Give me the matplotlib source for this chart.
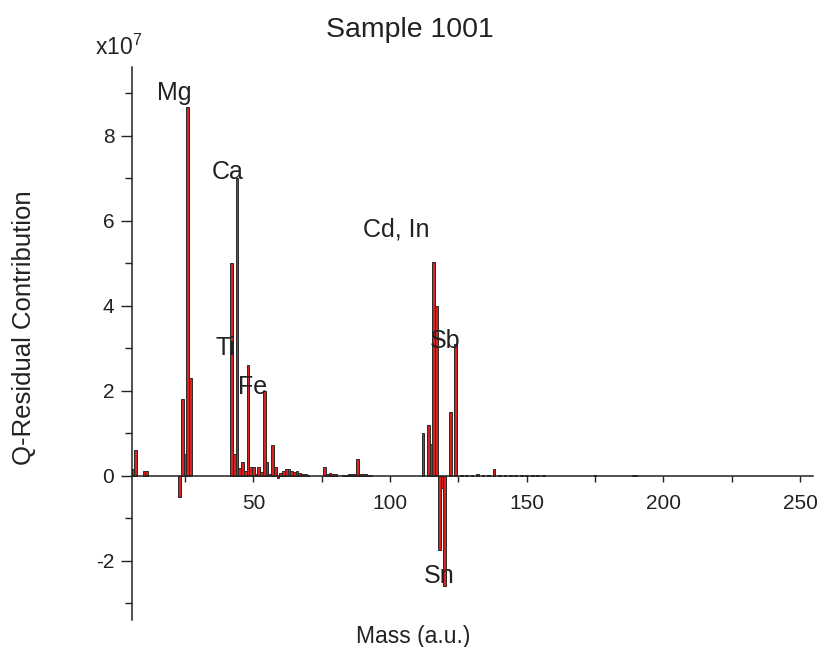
import matplotlib
matplotlib.use("Agg")
import matplotlib.pyplot as plt
from matplotlib.ticker import MultipleLocator

plt.rcParams['font.family'] = ['Liberation Sans', 'DejaVu Sans']
plt.rcParams['axes.unicode_minus'] = False
plt.rcParams['mathtext.fontset'] = 'custom'
plt.rcParams['mathtext.rm'] = 'Liberation Sans'
plt.rcParams['mathtext.it'] = 'Liberation Sans'

# Data (x10^7)
masses = [6, 7, 10, 11, 23, 24, 25, 26, 27,
          42, 43, 44, 45, 46, 47, 48, 49, 50, 51, 52, 53, 54, 55, 56, 57, 58, 59,
          60, 61, 62, 63, 64, 65, 66, 67, 68, 69, 70,
          76, 77, 78, 79, 80, 83, 84, 85, 86, 87, 88, 89, 90, 91, 92, 93,
          112, 114, 115, 116, 117, 118, 119, 120, 122, 124,
          126, 128, 130, 132, 134, 136, 138, 140, 142, 144, 146, 148, 150, 152, 154, 156, 175, 189, 190]
values = [0.16, 0.61, 0.11, 0.11, -0.5, 1.8, 0.5, 8.68, 2.29,
          5.0, 0.5, 7.0, 0.19, 0.31, 0.11, 2.6, 0.2, 0.2, 0.05, 0.2, 0.08, 1.98, 0.31, 0.05, 0.71, 0.2, -0.05,
          0.06, 0.11, 0.15, 0.15, 0.11, 0.08, 0.11, 0.07, 0.05, 0.04, 0.02,
          0.2, 0.04, 0.06, 0.03, 0.04, 0.01, 0.02, 0.03, 0.04, 0.05, 0.4, 0.04, 0.04, 0.03, 0.02, 0.01,
          1.0, 1.2, 0.75, 5.02, 4.0, -1.76, -0.3, -2.6, 1.5, 3.1,
          0.02, 0.02, 0.02, 0.03, 0.02, 0.02, 0.15, 0.02, 0.01, 0.02, 0.01, 0.02, 0.02, 0.01, 0.02, 0.01, 0.01, 0.01, 0.01]

labels = ["Mg", "Ca", "Ti", "Fe", "Cd, In", "Sb", "Sn"]
label_x = [20.9, 40.7, 39.9, 49.8, 102.4, 120.2, 117.9]
label_y = [8.84, 6.97, 2.84, 1.92, 5.62, 3.0, -2.52]

xlabel = "Mass (a.u.)"
ylabel = "Q-Residual Contribution"
title = "Sample 1001"

fig = plt.figure(figsize=(8.19, 6.47), dpi=100)
ax = fig.add_axes([0.1608, 0.0414, 0.8319, 0.8555])

ink = '#222222'
ax.bar(masses, values, width=1.0, color='#dd1f1f', edgecolor='#2a2a2a', linewidth=0.7, zorder=2)

ax.set_xlim(5.5, 254.7)
ax.set_ylim(-3.4, 9.62)

ax.spines['top'].set_visible(False)
ax.spines['right'].set_visible(False)
ax.spines['bottom'].set_position(('data', 0))
for s in ('left', 'bottom'):
    ax.spines[s].set_linewidth(1.1)
    ax.spines[s].set_color(ink)
    ax.spines[s].set_zorder(3)

ax.xaxis.set_major_locator(MultipleLocator(50))
ax.xaxis.set_minor_locator(MultipleLocator(25))
ax.yaxis.set_major_locator(MultipleLocator(2))
ax.yaxis.set_minor_locator(MultipleLocator(1))

ax.tick_params(axis='x', which='both', direction='out', length=4.5, width=1.0, color=ink,
               labelsize=15, labelcolor=ink, pad=8.5)
ax.tick_params(axis='y', which='major', direction='out', length=8, width=1.0, color=ink,
               labelsize=15, labelcolor=ink, pad=4.5)
ax.tick_params(axis='y', which='minor', direction='out', length=5, width=1.0, color=ink)

ax.set_xlabel(xlabel, fontsize=16.5, color=ink)
ax.xaxis.set_label_coords(0.413, -0.008)
ax.xaxis.label.set_va('top')
ax.set_ylabel(ylabel, fontsize=18.5, color=ink)
ax.yaxis.set_label_coords(-0.14, 0.528)

for t, x, y in zip(labels, label_x, label_y):
    ax.text(x, y, t, ha='center', va='baseline', fontsize=18, color=ink, zorder=4)

fig.text(0.5, 1 - 37 / 647, title, ha='center', va='baseline', fontsize=20.5, color=ink)
fig.text(95 / 819, 1 - 55 / 647, r'x10$^{7}$', ha='left', va='baseline', fontsize=16.5, color=ink)

fig.savefig("out.png", dpi=100)
